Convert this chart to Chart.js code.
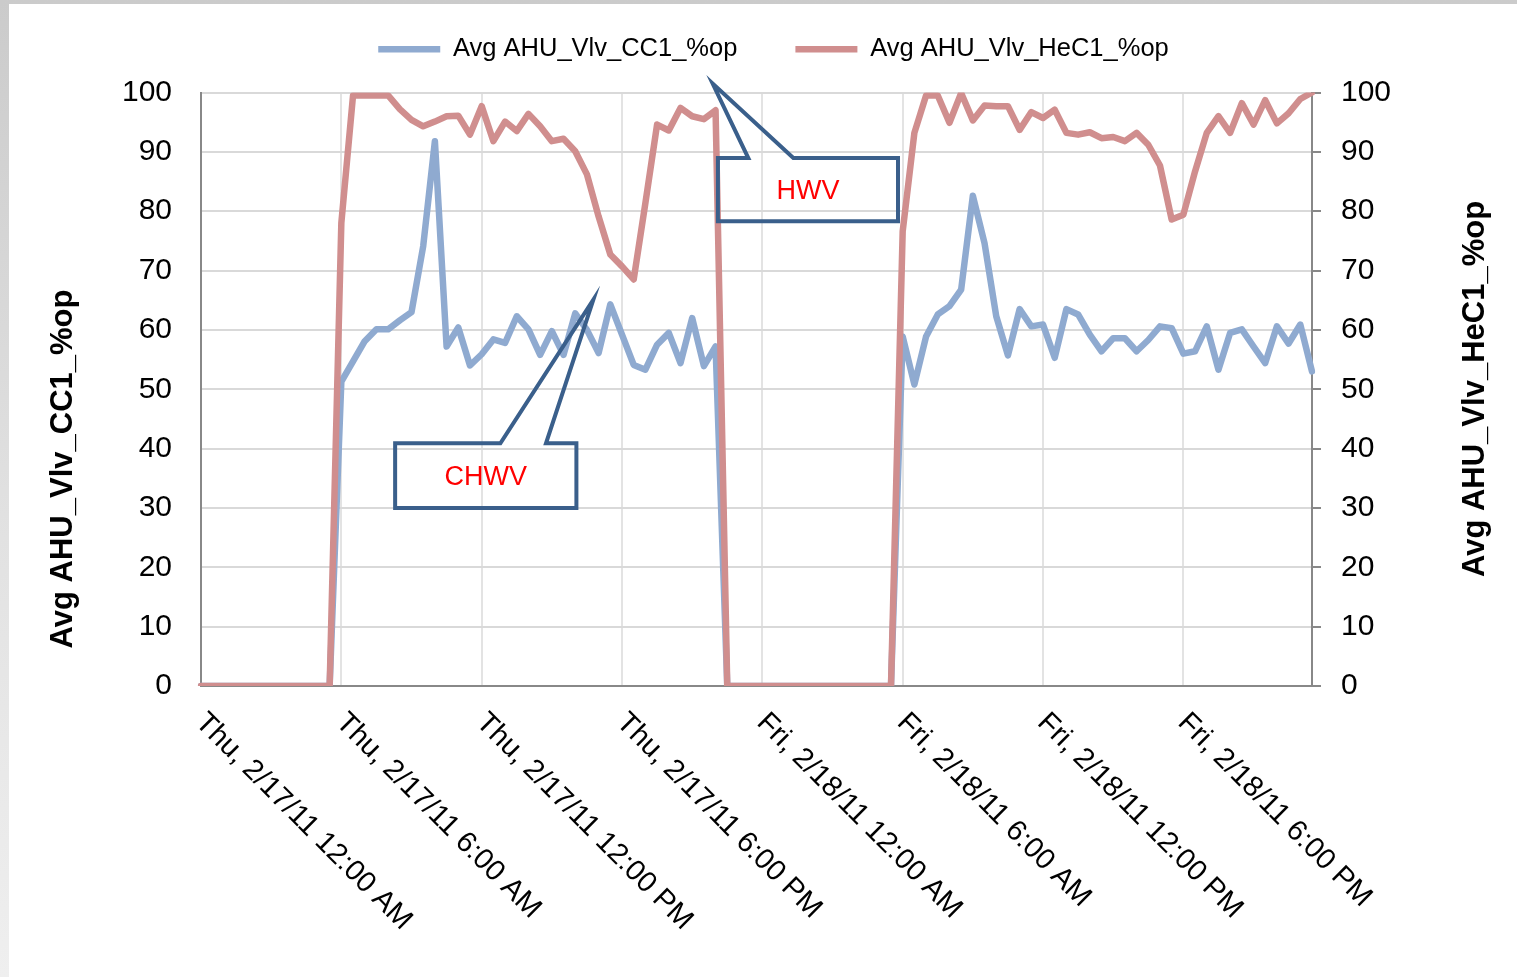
<!DOCTYPE html>
<html>
<head>
<meta charset="utf-8">
<script src="https://cdn.jsdelivr.net/npm/chart.js@4.4.1/dist/chart.umd.min.js"></script>
<style>
  html, body { margin: 0; padding: 0; }
  body { width: 1517px; height: 977px; position: relative; overflow: hidden;
         background: linear-gradient(to bottom, #cbcbcb, #e2e2e2 55%, #efefef); }
  #panel { position: absolute; left: 9px; top: 4px; right: 0; bottom: 0; background: #fff; }
  #chart { position: absolute; left: 0; top: 0; }
</style>
</head>
<body>
<div id="panel"></div>
<canvas id="chart" width="1517" height="977"></canvas>
<script>
// AHU valve positions, 30-minute averages over two days

const FONT = '"Liberation Sans", Arial, sans-serif';

// categories: Thu 2/17/11 00:00 .. Fri 2/18/11 23:30, every 30 min
const days = ['Thu, 2/17/11', 'Fri, 2/18/11'];
const categories = [];
days.forEach(day => {
  for (let k = 0; k < 48; k++) {
    const h = Math.floor(k / 2), m = k % 2 ? '30' : '00';
    categories.push(day + ' ' + (h % 12 || 12) + ':' + m + ' ' + (h < 12 ? 'AM' : 'PM'));
  }
});

// labels shown under the axis (every 12th category)
const tickLabels = [
  'Thu, 2/17/11 12:00 AM', 'Thu, 2/17/11 6:00 AM', 'Thu, 2/17/11 12:00 PM', 'Thu, 2/17/11 6:00 PM',
  'Fri, 2/18/11 12:00 AM', 'Fri, 2/18/11 6:00 AM', 'Fri, 2/18/11 12:00 PM', 'Fri, 2/18/11 6:00 PM'
];
const tickEvery = 12;

// Avg AHU_Vlv_CC1_%op (chilled water valve)
const coolingValve = [
  0, 0, 0, 0, 0, 0, 0, 0, 0, 0, 0, 0,
  51.3, 54.7, 58.1, 60.1, 60.1, 61.6, 63.0, 74.1, 91.8, 57.2, 60.4, 54.0,
  55.9, 58.4, 57.8, 62.3, 60.1, 55.8, 59.8, 55.8, 62.8, 60.0, 56.1, 64.3,
  59.2, 54.1, 53.3, 57.5, 59.5, 54.4, 62.0, 53.9, 57.2, 0, 0, 0,
  0, 0, 0, 0, 0, 0, 0, 0, 0, 0, 0, 0,
  58.9, 50.8, 58.9, 62.6, 64.0, 66.8, 82.6, 74.6, 62.3, 55.7, 63.5, 60.6,
  60.9, 55.3, 63.5, 62.6, 59.2, 56.4, 58.6, 58.6, 56.4, 58.3, 60.6, 60.3,
  56.0, 56.4, 60.6, 53.3, 59.5, 60.1, 57.2, 54.4, 60.6, 57.7, 60.9, 53.0
];

// Avg AHU_Vlv_HeC1_%op (hot water valve)
const heatingValve = [
  0, 0, 0, 0, 0, 0, 0, 0, 0, 0, 0, 0,
  78.0, 99.5, 99.5, 99.5, 99.5, 97.2, 95.4, 94.3, 95.1, 96.0, 96.1, 92.9,
  97.7, 91.8, 95.1, 93.5, 96.4, 94.3, 91.8, 92.2, 90.1, 86.2, 79.1, 72.7,
  70.7, 68.5, 81.4, 94.6, 93.6, 97.4, 96.0, 95.5, 97.0, 0, 0, 0,
  0, 0, 0, 0, 0, 0, 0, 0, 0, 0, 0, 0,
  76.6, 93.2, 99.5, 99.5, 94.9, 99.9, 95.3, 97.8, 97.7, 97.7, 93.7, 96.7,
  95.7, 97.1, 93.2, 92.9, 93.3, 92.3, 92.5, 91.8, 93.2, 91.2, 87.7, 78.6,
  79.4, 86.7, 93.2, 96.0, 93.2, 98.2, 94.6, 98.7, 94.8, 96.5, 98.9, 100
];

// callouts in data coordinates: [category index, value]
const callouts = [
  { text: 'CHWV', box: [16.6, 32.1, 40.9, 30.0], base: [25.6, 29.5], tip: [33.55, 65.1] },
  { text: 'HWV', box: [44.2, 59.6, 88.95, 78.3], base: [46.8, 50.65], tip: [43.75, 101.5] }
];

const decorations = {
  id: 'decorations',
  afterDatasetsDraw(chart) {
    const { ctx } = chart;
    const xs = chart.scales.x, ys = chart.scales.y;
    ctx.save();
    callouts.forEach(c => {
      const L = xs.getPixelForValue(c.box[0]), R = xs.getPixelForValue(c.box[1]);
      const T = ys.getPixelForValue(c.box[2]), B = ys.getPixelForValue(c.box[3]);
      const b1 = xs.getPixelForValue(c.base[0]), b2 = xs.getPixelForValue(c.base[1]);
      const tx = xs.getPixelForValue(c.tip[0]), ty = ys.getPixelForValue(c.tip[1]);
      ctx.beginPath();
      ctx.moveTo(L, T);
      ctx.lineTo(b1, T);
      ctx.lineTo(tx, ty);
      ctx.lineTo(b2, T);
      ctx.lineTo(R, T);
      ctx.lineTo(R, B);
      ctx.lineTo(L, B);
      ctx.closePath();
      ctx.lineWidth = 4;
      ctx.lineJoin = 'miter';
      ctx.strokeStyle = '#3a5f8b';
      ctx.stroke();
      ctx.fillStyle = '#ff0000';
      ctx.font = '27px ' + FONT;
      ctx.textAlign = 'center';
      ctx.textBaseline = 'middle';
      ctx.fillText(c.text, (L + R) / 2, (T + B) / 2 + 2);
    });
    ctx.restore();
  },
  afterDraw(chart) {
    const { ctx } = chart;
    const xs = chart.scales.x;
    ctx.save();
    // rotated category labels, reading down to the right
    ctx.font = '29px ' + FONT;
    ctx.fillStyle = '#000';
    ctx.textAlign = 'left';
    ctx.textBaseline = 'middle';
    tickLabels.forEach((t, k) => {
      const px = xs.getPixelForValue(k * tickEvery);
      ctx.save();
      ctx.translate(px - 1, xs.top + 32);
      ctx.rotate(Math.PI / 4);
      ctx.fillText(t, 0, 0);
      ctx.restore();
    });
    // axis titles, both reading bottom to top
    ctx.font = 'bold 31px ' + FONT;
    ctx.textAlign = 'center';
    [[63.5, 469, 'Avg AHU_Vlv_CC1_%op'], [1475.5, 389, 'Avg AHU_Vlv_HeC1_%op']].forEach(([x, y, t]) => {
      ctx.save();
      ctx.translate(x, y);
      ctx.rotate(-Math.PI / 2);
      ctx.fillText(t, 0, 0);
      ctx.restore();
    });
    ctx.restore();
  }
};

const axisGrey = '#888888';

new Chart(document.getElementById('chart'), {
  type: 'line',
  data: {
    labels: categories,
    datasets: [
      {
        label: 'Avg AHU_Vlv_CC1_%op',
        data: coolingValve,
        borderColor: '#8faad0', backgroundColor: '#8faad0',
        borderWidth: 6.5, pointRadius: 0, borderJoinStyle: 'round', borderCapStyle: 'round',
        yAxisID: 'y', order: 1
      },
      {
        label: 'Avg AHU_Vlv_HeC1_%op',
        data: heatingValve,
        borderColor: '#d08e8e', backgroundColor: '#d08e8e',
        borderWidth: 6.5, pointRadius: 0, borderJoinStyle: 'round', borderCapStyle: 'round',
        yAxisID: 'y2', order: 0
      }
    ]
  },
  options: {
    responsive: false,
    animation: false,
    layout: { padding: { left: 30, right: 0, top: -21.5, bottom: 0 } },
    plugins: {
      legend: {
        position: 'top',
        labels: {
          usePointStyle: true, pointStyle: 'line', pointStyleWidth: 62,
          padding: 58, color: '#000', font: { family: FONT, size: 25.5 },
          sort: (a, b) => a.datasetIndex - b.datasetIndex
        }
      },
      // empty spacer between legend and plot
      title: { display: true, text: '', weight: 500, padding: 0, font: { size: 20.5, lineHeight: 1 } },
      tooltip: { enabled: false }
    },
    scales: {
      x: {
        offset: false,
        ticks: { display: false, autoSkip: false },
        grid: {
          drawTicks: false, lineWidth: 2,
          color: c => (c.index % tickEvery === 0 && c.index > 0) ? '#e3e3e3' : 'rgba(0,0,0,0)'
        },
        border: { color: axisGrey, width: 2 },
        afterFit: s => { s.height = 291; }
      },
      y: {
        position: 'left', min: 0, max: 100,
        ticks: { stepSize: 10, color: '#000', padding: 29, font: { family: FONT, size: 30 } },
        grid: { color: '#d9d9d9', lineWidth: 2, drawTicks: false },
        border: { color: axisGrey, width: 2 },
        afterFit: s => { s.width = 171; }
      },
      y2: {
        position: 'right', min: 0, max: 100,
        ticks: { stepSize: 10, color: '#000', padding: 20, font: { family: FONT, size: 30 } },
        grid: { drawOnChartArea: false, color: axisGrey, lineWidth: 2, tickLength: 9 },
        border: { color: axisGrey, width: 2 },
        afterFit: s => { s.width = 205; }
      }
    }
  },
  plugins: [decorations]
});
</script>
</body>
</html>
